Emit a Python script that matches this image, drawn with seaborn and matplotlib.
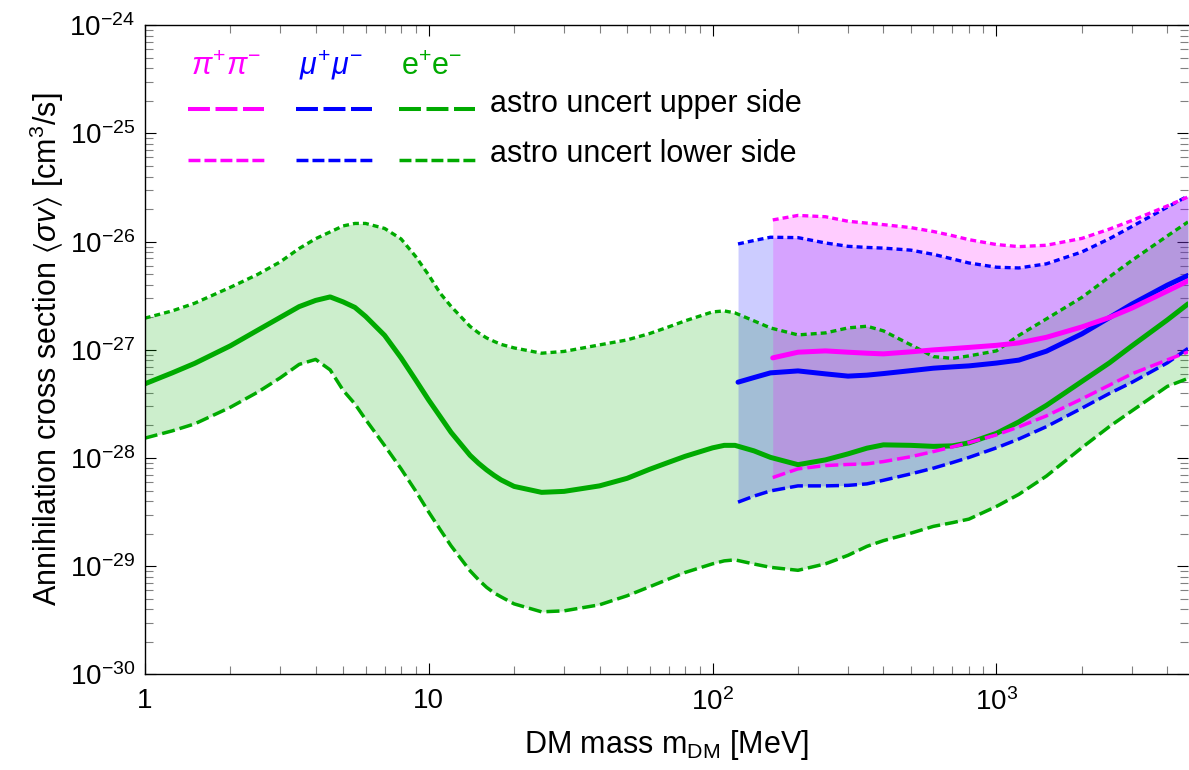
import numpy as np
import matplotlib
matplotlib.use('Agg')
import matplotlib.pyplot as plt
from matplotlib.lines import Line2D
from matplotlib.ticker import FixedLocator, FixedFormatter, LogLocator, NullFormatter
import seaborn as sns

# masses (MeV) and cross sections (cm^3/s)
mass_ee = [1, 1.25, 1.5, 2, 2.5, 3, 3.5, 4, 4.5, 5, 5.5, 6, 7, 8, 9, 10, 11, 12, 14, 15, 16,
           17, 18, 20, 25, 30, 40, 50, 60, 70, 80, 100, 110, 120, 140, 160, 200, 250, 300,
           350, 400, 500, 600, 700, 800, 1000, 1200, 1500, 2000, 2500, 3000, 4000, 4730]
ee_central = [4.84e-28, 6.12e-28, 7.49e-28, 1.086e-27, 1.518e-27, 1.993e-27, 2.507e-27,
              2.861e-27, 3.083e-27, 2.772e-27, 2.466e-27, 2.035e-27, 1.359e-27, 8.42e-28,
              5.27e-28, 3.44e-28, 2.399e-28, 1.724e-28, 1.057e-28, 8.92e-29, 7.76e-29,
              6.91e-29, 6.27e-29, 5.46e-29, 4.81e-29, 4.91e-29, 5.52e-29, 6.48e-29, 7.85e-29,
              9.11e-29, 1.035e-28, 1.240e-28, 1.308e-28, 1.308e-28, 1.163e-28, 1.013e-28,
              8.67e-29, 9.60e-29, 1.091e-28, 1.232e-28, 1.322e-28, 1.308e-28, 1.280e-28,
              1.294e-28, 1.379e-28, 1.688e-28, 2.156e-28, 3.062e-28, 5.10e-28, 7.57e-28,
              1.086e-27, 1.889e-27, 2.657e-27]
ee_upper = [1.959e-27, 2.288e-27, 2.696e-27, 3.774e-27, 4.977e-27, 6.49e-27, 8.64e-27,
            1.064e-26, 1.229e-26, 1.397e-26, 1.473e-26, 1.473e-26, 1.324e-26, 1.059e-26,
            7.30e-27, 4.92e-27, 3.32e-27, 2.518e-27, 1.645e-27, 1.433e-27, 1.288e-27,
            1.196e-27, 1.122e-27, 1.041e-27, 9.30e-28, 9.66e-28, 1.110e-27, 1.234e-27,
            1.412e-27, 1.627e-27, 1.850e-27, 2.240e-27, 2.288e-27, 2.193e-27, 1.850e-27,
            1.593e-27, 1.373e-27, 1.433e-27, 1.593e-27, 1.652e-27, 1.496e-27, 1.110e-27,
            8.65e-28, 8.33e-28, 8.78e-28, 9.77e-28, 1.359e-27, 1.930e-27, 3.050e-27,
            4.72e-27, 6.70e-27, 1.129e-26, 1.521e-26]
ee_lower = [1.524e-28, 1.780e-28, 2.066e-28, 2.935e-28, 4.057e-28, 5.50e-28, 7.33e-28,
            8.15e-28, 6.52e-28, 4.22e-28, 3.16e-28, 2.269e-28, 1.302e-28, 7.93e-29,
            4.96e-29, 3.176e-29, 2.165e-29, 1.540e-29, 9.05e-30, 7.47e-30, 6.37e-30,
            5.66e-30, 5.20e-30, 4.48e-30, 3.78e-30, 3.86e-30, 4.39e-30, 5.32e-30, 6.44e-30,
            7.59e-30, 8.73e-30, 1.050e-29, 1.119e-29, 1.143e-29, 1.046e-29, 9.75e-30,
            9.15e-30, 1.050e-29, 1.258e-29, 1.524e-29, 1.721e-29, 2.018e-29, 2.332e-29,
            2.523e-29, 2.720e-29, 3.563e-29, 4.61e-29, 6.80e-29, 1.245e-28, 1.951e-28,
            2.724e-28, 4.59e-28, 5.44e-28]

mass_mu = [123, 140, 160, 200, 250, 300, 350, 400, 500, 600, 700, 800, 1000, 1200, 1500,
           2000, 2500, 3000, 4000, 4730]
mu_central = [5.02e-28, 5.54e-28, 6.12e-28, 6.38e-28, 5.99e-28, 5.71e-28, 5.83e-28, 6.03e-28,
              6.42e-28, 6.76e-28, 6.95e-28, 7.10e-28, 7.54e-28, 8.03e-28, 9.71e-28, 1.403e-27,
              1.984e-27, 2.645e-27, 3.963e-27, 4.87e-27]
mu_upper = [9.52e-27, 1.024e-26, 1.098e-26, 1.089e-26, 9.72e-27, 9.05e-27, 8.84e-27, 8.71e-27,
            8.34e-27, 7.63e-27, 6.92e-27, 6.35e-27, 5.80e-27, 5.71e-27, 6.23e-27, 8.03e-27,
            1.064e-26, 1.379e-26, 2.084e-26, 2.645e-26]
mu_lower = [3.905e-29, 4.44e-29, 4.96e-29, 5.52e-29, 5.52e-29, 5.58e-29, 5.76e-29, 6.22e-29,
            7.13e-29, 8.05e-29, 9.07e-29, 1.011e-28, 1.240e-28, 1.498e-28, 1.947e-28,
            2.886e-28, 3.947e-28, 4.997e-28, 7.57e-28, 1.030e-27]

mass_pi = [163, 200, 250, 300, 350, 400, 500, 600, 700, 800, 1000, 1200, 1500, 2000, 2500,
           3000, 4000, 4730]
pi_central = [8.42e-28, 9.50e-28, 9.77e-28, 9.50e-28, 9.30e-28, 9.17e-28, 9.58e-28, 9.98e-28,
              1.026e-27, 1.052e-27, 1.100e-27, 1.158e-27, 1.305e-27, 1.627e-27, 1.988e-27,
              2.429e-27, 3.494e-27, 4.335e-27]
pi_upper = [1.587e-26, 1.747e-26, 1.699e-26, 1.543e-26, 1.483e-26, 1.436e-26, 1.347e-26,
            1.240e-26, 1.136e-26, 1.043e-26, 9.40e-27, 8.99e-27, 9.26e-27, 1.071e-26,
            1.305e-26, 1.567e-26, 2.138e-26, 2.589e-26]
pi_lower = [6.59e-29, 7.93e-29, 8.51e-29, 8.71e-29, 8.82e-29, 9.26e-29, 1.028e-28, 1.146e-28,
            1.266e-28, 1.385e-28, 1.635e-28, 1.939e-28, 2.450e-28, 3.517e-28, 4.71e-28,
            5.99e-28, 8.07e-28, 9.56e-28]

x_ticks = [1, 10, 100, 1000]
x_ticklabels = ['1', '10', r'$10^{2}$', r'$10^{3}$']
y_ticks = [1e-30, 1e-29, 1e-28, 1e-27, 1e-26, 1e-25, 1e-24]
y_ticklabels = [r'$10^{-30}$', r'$10^{-29}$', r'$10^{-28}$', r'$10^{-27}$',
                r'$10^{-26}$', r'$10^{-25}$', r'$10^{-24}$']

GREEN = '#00aa00'
BLUE = '#0000ff'
MAGENTA = '#ff00ff'

channels = [
    (mass_ee, ee_central, ee_upper, ee_lower, GREEN),
    (mass_mu, mu_central, mu_upper, mu_lower, BLUE),
    (mass_pi, pi_central, pi_upper, pi_lower, MAGENTA),
]

sns.set_theme(style='ticks')
plt.rcParams['font.family'] = ['Liberation Sans', 'DejaVu Sans']
plt.rcParams['mathtext.fontset'] = 'custom'
plt.rcParams['mathtext.rm'] = 'Liberation Sans'
plt.rcParams['mathtext.it'] = 'Liberation Sans:italic'
plt.rcParams['mathtext.bf'] = 'Liberation Sans:bold'
plt.rcParams['mathtext.fallback'] = 'stixsans'
plt.rcParams['lines.scale_dashes'] = False
for k in ['text.color', 'axes.labelcolor', 'xtick.color', 'ytick.color', 'axes.edgecolor']:
    plt.rcParams[k] = 'black'

W, H = 1189, 770
fig = plt.figure(figsize=(W / 100, H / 100), dpi=100)
ax = fig.add_axes([144.7 / W, 1 - 674.3 / H, (1188 - 144.7) / W, (674.3 - 25.3) / H])

DOTTED = (0, (4.3, 2.9))
DASHED = (0, (9.4, 3.6))

# bandas de incertidumbre
for m, c, up, lo, col in channels:
    ax.fill_between(m, lo, up, color=col, alpha=0.2, linewidth=0)

for m, c, up, lo, col in channels:
    sns.lineplot(x=m, y=up, ax=ax, color=col, linewidth=2.4, linestyle=DOTTED,
                 dash_capstyle='butt', estimator=None, sort=False)
    sns.lineplot(x=m, y=lo, ax=ax, color=col, linewidth=2.5, linestyle=DASHED,
                 dash_capstyle='butt', estimator=None, sort=False)
    sns.lineplot(x=m, y=c, ax=ax, color=col, linewidth=3.6, estimator=None, sort=False)

ax.set_xscale('log')
ax.set_yscale('log')
ax.set_xlim(1, 4730)
ax.set_ylim(1e-30, 1e-24)

ax.xaxis.set_major_locator(FixedLocator(x_ticks))
ax.xaxis.set_major_formatter(FixedFormatter(x_ticklabels))
ax.xaxis.set_minor_locator(LogLocator(base=10, subs=np.arange(2, 10), numticks=50))
ax.xaxis.set_minor_formatter(NullFormatter())
ax.yaxis.set_major_locator(FixedLocator(y_ticks))
ax.yaxis.set_major_formatter(FixedFormatter(y_ticklabels))
ax.yaxis.set_minor_locator(LogLocator(base=10, subs=np.arange(2, 10), numticks=50))
ax.yaxis.set_minor_formatter(NullFormatter())

ax.tick_params(which='both', direction='in', top=True, right=True)
ax.tick_params(which='major', length=8, width=0.8, color='black', labelsize=20)
ax.tick_params(which='minor', length=5.5, width=0.8, color='0.5')
ax.tick_params(axis='x', which='major', pad=10)
ax.tick_params(axis='y', which='major', pad=7)
ax.spines['right'].set_visible(False)
for s in ['left', 'bottom', 'top']:
    ax.spines[s].set_linewidth(1.0)

ax.set_xlabel(r'DM mass m$_{\mathrm{DM}}$ [MeV]', fontsize=22)
ax.set_ylabel(r'Annihilation cross section $\langle\sigma v\rangle$ [cm$^{3}$/s]', fontsize=22)
ax.xaxis.set_label_coords(0.5, -0.109)
ax.xaxis.label.set_va('center')
ax.yaxis.set_label_coords(-0.0936, 0.5)
ax.yaxis.label.set_va('center')

# leyenda hecha a mano
def fx(px):
    return px / W

def fy(py):
    return 1 - py / H

headers = [(r'$\pi^{+}\pi^{-}$', MAGENTA, 226), (r'$\mu^{+}\mu^{-}$', BLUE, 331),
           (r'e$^{+}$e$^{-}$', GREEN, 432)]
for txt, col, cx in headers:
    fig.text(fx(cx), fy(75), txt, color=col, fontsize=22, ha='center', va='baseline')

for i, (txt, col, cx) in enumerate(headers):
    x0 = [188, 296, 399][i]
    fig.add_artist(Line2D([fx(x0), fx(x0 + 76)], [fy(109), fy(109)], color=col,
                          linewidth=2.9, linestyle=(0, (15.8, 4.0)), dash_capstyle='butt'))
    fig.add_artist(Line2D([fx(x0), fx(x0 + 76)], [fy(160), fy(160)], color=col,
                          linewidth=2.5, linestyle=(0, (8.6, 2.9)), dash_capstyle='butt'))

fig.text(fx(490), fy(112), 'astro uncert upper side', fontsize=22, va='baseline')
fig.text(fx(490), fy(162), 'astro uncert lower side', fontsize=22, va='baseline')

fig.savefig('out.png', dpi=100)
